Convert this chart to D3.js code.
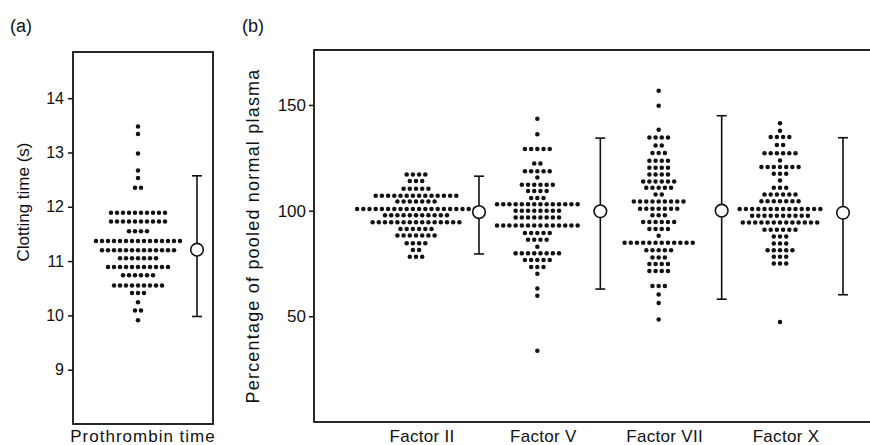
<!DOCTYPE html>
<html>
<head>
<meta charset="utf-8">
<script src="https://cdn.jsdelivr.net/npm/d3@7"></script>
<style>
  body { margin: 0; background: #fff; }
  svg text { font-family: "Liberation Sans", Arial, sans-serif; fill: #111; }
</style>
</head>
<body>
<svg id="chart" width="870" height="445"></svg>
<script>
// ---- data ----
// each row: [value, number of subjects with that value]
var ptRows = [
  [13.48, 1], [13.34, 1], [12.98, 1], [12.67, 1], [12.53, 1], [12.35, 2],
  [11.89, 10], [11.73, 10], [11.55, 4], [11.37, 15], [11.20, 13], [11.05, 7],
  [10.89, 11], [10.74, 6], [10.55, 9], [10.41, 3], [10.24, 1], [10.09, 2], [9.91, 1]
];
var ptSummary = { mean: 11.21, low: 9.98, high: 12.57 };
var ptTicks = [9, 10, 11, 12, 13, 14];

var factorNames = ["Factor II", "Factor V", "Factor VII", "Factor X"];
var factorII = [
  [117.1, 4], [114.0, 3], [110.4, 5], [107.1, 14], [104.3, 7], [100.8, 20],
  [97.8, 11], [94.5, 15], [91.3, 6], [88.2, 7], [84.6, 4], [81.4, 2], [78.2, 3]
];
var factorV = [
  [143.5, 1], [136.1, 1], [129.2, 5], [122.3, 2], [118.6, 5], [115.7, 1],
  [112.3, 6], [109.3, 4], [106.0, 3], [103.0, 14], [99.9, 8], [96.7, 8],
  [93.0, 14], [89.4, 5], [86.2, 4], [82.9, 1], [79.8, 8], [76.6, 5],
  [73.3, 3], [70.1, 1], [63.2, 1], [59.7, 1], [33.7, 1]
];
var factorVII = [
  [156.7, 1], [149.6, 1], [138.3, 1], [134.6, 4], [130.8, 2], [127.3, 3],
  [123.6, 4], [120.3, 4], [117.1, 4], [113.8, 6], [110.8, 5], [107.6, 2],
  [104.3, 9], [100.9, 7], [97.8, 3], [94.6, 6], [91.3, 4], [88.1, 1],
  [84.8, 12], [81.3, 5], [77.8, 3], [74.7, 4], [71.4, 4], [64.3, 3],
  [60.3, 1], [56.3, 1], [48.5, 1]
];
var factorX = [
  [141.4, 1], [137.8, 1], [134.8, 4], [131.0, 2], [127.2, 6], [123.7, 1],
  [120.6, 7], [117.4, 3], [114.2, 1], [110.8, 3], [107.6, 6], [104.4, 7],
  [100.8, 14], [97.6, 10], [94.4, 13], [91.0, 6], [87.8, 3], [84.5, 3],
  [81.3, 5], [78.2, 3], [75.0, 3], [47.3, 1]
];
var factorRows = [factorII, factorV, factorVII, factorX];
var factorMean = [99.3, 99.7, 100.0, 99.0];
var factorLow = [79.5, 62.9, 58.1, 60.2];
var factorHigh = [116.3, 134.3, 144.9, 134.5];
var factorTicks = [50, 100, 150];

// ---- layout ----
var svg = d3.select("#chart");
var dotR = 2.25, capW = 5, meanR = 6.3;

// spread each row into individual dots, centred on the column
function toDots(rows) {
  return rows.flatMap(function(r) {
    return d3.range(r[1]).map(function(j) { return { v: r[0], k: j - (r[1] - 1) / 2 }; });
  });
}

function drawDots(g, rows, cx, y, step) {
  g.append("g").selectAll("circle")
    .data(toDots(rows))
    .enter().append("circle")
      .attr("cx", function(d) { return cx + d.k * step; })
      .attr("cy", function(d) { return y(d.v); })
      .attr("r", dotR)
      .attr("fill", "#111");
}

function drawBar(g, cx, y, mean, low, high) {
  var b = g.append("g").attr("stroke", "#111").attr("stroke-width", 1.6);
  b.append("line").attr("x1", cx).attr("x2", cx).attr("y1", y(low)).attr("y2", y(high));
  b.append("line").attr("x1", cx - capW).attr("x2", cx + capW).attr("y1", y(low)).attr("y2", y(low));
  b.append("line").attr("x1", cx - capW).attr("x2", cx + capW).attr("y1", y(high)).attr("y2", y(high));
  b.append("circle").attr("cx", cx).attr("cy", y(mean)).attr("r", meanR).attr("fill", "#fff");
}

function drawAxis(g, y, ticks, left, fontSize, pad) {
  var a = g.append("g")
    .attr("transform", "translate(" + left + ",0)")
    .call(d3.axisLeft(y).tickValues(ticks).tickFormat(d3.format("d")).tickSize(5).tickPadding(pad));
  a.select(".domain").remove();
  a.selectAll("line").attr("stroke", "#111").attr("stroke-width", 1.5);
  a.selectAll("text").attr("font-size", fontSize)
    .attr("font-family", "Liberation Sans, Arial, sans-serif").attr("fill", "#111");
}

// ---- panel (a) ----
var ax0 = 73, ax1 = 213, ay0 = 52, ay1 = 424;
var ya = d3.scaleLinear().domain([8, 14.85]).range([ay1, ay0]);
var xa = d3.scalePoint().domain(["dots", "summary"]).range([138, 197]);
var ga = svg.append("g");

ga.append("rect").attr("x", ax0).attr("y", ay0)
  .attr("width", ax1 - ax0).attr("height", ay1 - ay0)
  .attr("fill", "none").attr("stroke", "#111").attr("stroke-width", 1.8);
drawAxis(ga, ya, ptTicks, ax0, 16, 4);
drawDots(ga, ptRows, xa("dots"), ya, 6.0);
drawBar(ga, xa("summary"), ya, ptSummary.mean, ptSummary.low, ptSummary.high);

ga.append("text").attr("x", 10).attr("y", 32).attr("font-size", 18).text("(a)");
ga.append("text")
  .attr("transform", "translate(29," + 202 + ") rotate(-90)")
  .attr("text-anchor", "middle").attr("font-size", 17)
  .text("Clotting time (s)");
ga.append("text").attr("x", (ax0 + ax1) / 2).attr("y", 442)
  .attr("text-anchor", "middle").attr("font-size", 17).attr("letter-spacing", 1)
  .text("Prothrombin time");

// ---- panel (b) ----
var bx0 = 314, bx1 = 873, by0 = 50, by1 = 422;
var yb = d3.scaleLinear().domain([0, 176]).range([by1, by0]);
var xb = d3.scalePoint().domain(factorNames).range([bx0 + 102, bx0 + 466]);
var barOffset = 63;
var gb = svg.append("g");

gb.append("rect").attr("x", bx0).attr("y", by0)
  .attr("width", bx1 - bx0).attr("height", by1 - by0)
  .attr("fill", "none").attr("stroke", "#111").attr("stroke-width", 1.8);
drawAxis(gb, yb, factorTicks, bx0, 17, 3);

factorNames.forEach(function(f, i) {
  drawDots(gb, factorRows[i], xb(f), yb, 6.2);
  drawBar(gb, xb(f) + barOffset, yb, factorMean[i], factorLow[i], factorHigh[i]);
});

gb.selectAll(".factor-label")
  .data(factorNames)
  .enter().append("text")
    .attr("class", "factor-label")
    .attr("x", function(d) { return xb(d) + 6; })
    .attr("y", 442)
    .attr("text-anchor", "middle").attr("font-size", 17).attr("letter-spacing", 0.3)
    .text(function(d) { return d; });

gb.append("text").attr("x", 242).attr("y", 32).attr("font-size", 18).text("(b)");
gb.append("text")
  .attr("transform", "translate(259," + 236 + ") rotate(-90)")
  .attr("text-anchor", "middle").attr("font-size", 18).attr("letter-spacing", 1.2)
  .text("Percentage of pooled normal plasma");
</script>
</body>
</html>
